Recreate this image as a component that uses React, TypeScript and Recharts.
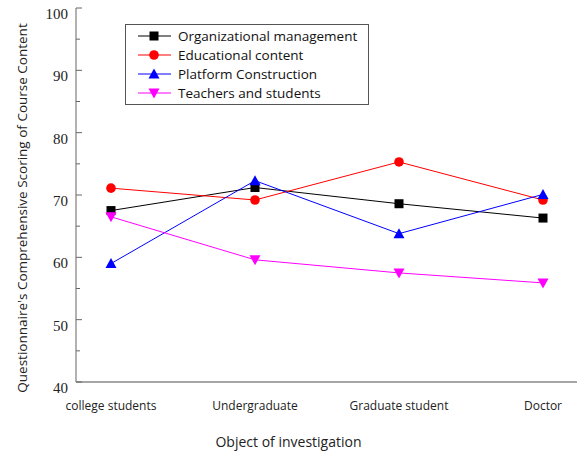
import React from 'react'
import { LineChart, Line, XAxis, YAxis, Legend, Label } from 'recharts'

const categories = ['college students', 'Undergraduate', 'Graduate student', 'Doctor']
const organizational = [67.5, 71.2, 68.6, 66.3]
const educational = [71.1, 69.2, 75.3, 69.2]
const platform = [59.0, 72.3, 63.8, 70.1]
const teachers = [66.5, 59.6, 57.5, 55.9]
const yTicks = [40, 45, 50, 55, 60, 65, 70, 75, 80, 85, 90, 95, 100]

const series = [
  { key: 'org', name: 'Organizational management', color: '#000000', shape: 'square' },
  { key: 'edu', name: 'Educational content', color: '#ff0000', shape: 'circle' },
  { key: 'plat', name: 'Platform Construction', color: '#0000ff', shape: 'triangle' },
  { key: 'teach', name: 'Teachers and students', color: '#ff00ff', shape: 'down' },
]

const data = categories.map((name, i) => ({
  name,
  org: organizational[i],
  edu: educational[i],
  plat: platform[i],
  teach: teachers[i],
}))

const SANS = '"Open Sans", "DejaVu Sans", sans-serif'
const SERIF = '"Liberation Serif", "DejaVu Serif", serif'

function Marker({ cx, cy, shape, color }: any) {
  if (shape === 'square') {
    return <rect x={cx - 4.5} y={cy - 4.5} width={9} height={9} fill={color} />
  }
  if (shape === 'circle') {
    return <circle cx={cx} cy={cy} r={4.8} fill={color} />
  }
  if (shape === 'triangle') {
    return <path d={`M${cx},${cy - 5.5} L${cx + 5.5},${cy + 4.5} L${cx - 5.5},${cy + 4.5} Z`} fill={color} />
  }
  return <path d={`M${cx},${cy + 5.5} L${cx + 5.5},${cy - 4.5} L${cx - 5.5},${cy - 4.5} Z`} fill={color} />
}

// ticks point into the plot; minor ones (every 5) carry no label
function YTick({ x, y, payload }: any) {
  const major = payload.value % 10 === 0
  const axisX = x + 8
  return (
    <g>
      <line x1={axisX} x2={axisX + (major ? 6 : 4)} y1={y} y2={y} stroke="#666" strokeWidth={1} />
      {major && (
        <text x={x} y={y + 6} textAnchor="end" dominantBaseline="central" fontFamily={SERIF} fontSize={15} fill="#222">
          {payload.value}
        </text>
      )}
    </g>
  )
}

function XTick({ x, y, payload }: any) {
  return (
    <text x={x} y={y} textAnchor="middle" dominantBaseline="central" fontFamily={SANS} fontSize={12} fill="#222">
      {payload.value}
    </text>
  )
}

function LegendBox() {
  return (
    <div
      style={{
        border: '1px solid #555',
        background: '#fff',
        width: 242,
        padding: '2px 0 2px 0',
        fontFamily: SANS,
        fontSize: 13.5,
        color: '#111',
      }}
    >
      {series.map((s) => (
        <div key={s.key} style={{ display: 'flex', alignItems: 'center', height: 18.8 }}>
          <svg width={52} height={14} style={{ flex: 'none' }}>
            <line x1={12} x2={45} y1={7} y2={7} stroke={s.color} strokeWidth={1} />
            <Marker cx={28} cy={7} shape={s.shape} color={s.color} />
          </svg>
          <span style={{ lineHeight: '14px' }}>{s.name}</span>
        </div>
      ))}
    </div>
  )
}

export default function App() {
  return (
    <div style={{ position: 'absolute', left: 0, top: 0, background: '#fff' }}>
      <LineChart width={577} height={452} data={data} margin={{ top: 8, right: 0, left: 0, bottom: 0 }}>
        <XAxis
          dataKey="name"
          height={70}
          padding={{ left: 35, right: 34 }}
          tickLine={false}
          tickSize={0}
          tickMargin={23}
          tick={<XTick />}
          axisLine={{ stroke: '#888', strokeWidth: 1.3 }}
          interval={0}
        >
          <Label
            value="Object of investigation"
            position="insideBottom"
            offset={5}
            dx={-38}
            style={{ fontFamily: SANS, fontSize: 14, fill: '#222' }}
          />
        </XAxis>
        <XAxis
          xAxisId="top"
          dataKey="name"
          orientation="top"
          height={0}
          tick={false}
          tickLine={false}
          axisLine={{ stroke: '#333', strokeWidth: 1.5 }}
        />
        <YAxis
          width={76}
          domain={[40, 100]}
          ticks={yTicks}
          interval={0}
          tickLine={false}
          tickSize={0}
          tickMargin={8}
          tick={<YTick />}
          axisLine={{ stroke: '#888', strokeWidth: 1.3 }}
        >
          <Label
            content={({ viewBox }: any) => (
              <text
                transform={`translate(${viewBox.x + 22},${viewBox.y + 200}) rotate(-90)`}
                textAnchor="middle"
                dominantBaseline="central"
                fontFamily={SANS}
                fontSize={13.5}
                fill="#222"
              >
                Questionnaire's Comprehensive Scoring of Course Content
              </text>
            )}
          />
        </YAxis>
        <Legend
          content={<LegendBox />}
          layout="vertical"
          verticalAlign="middle"
          align="center"
          wrapperStyle={{ left: 125, top: 24, width: 'auto' }}
        />
        {series.map((s) => (
          <Line
            key={s.key}
            dataKey={s.key}
            name={s.name}
            stroke={s.color}
            strokeWidth={1}
            isAnimationActive={false}
            dot={(p: any) => <Marker key={`${s.key}-${p.index}`} cx={p.cx} cy={p.cy} shape={s.shape} color={s.color} />}
            activeDot={false}
          />
        ))}
      </LineChart>
    </div>
  )
}
